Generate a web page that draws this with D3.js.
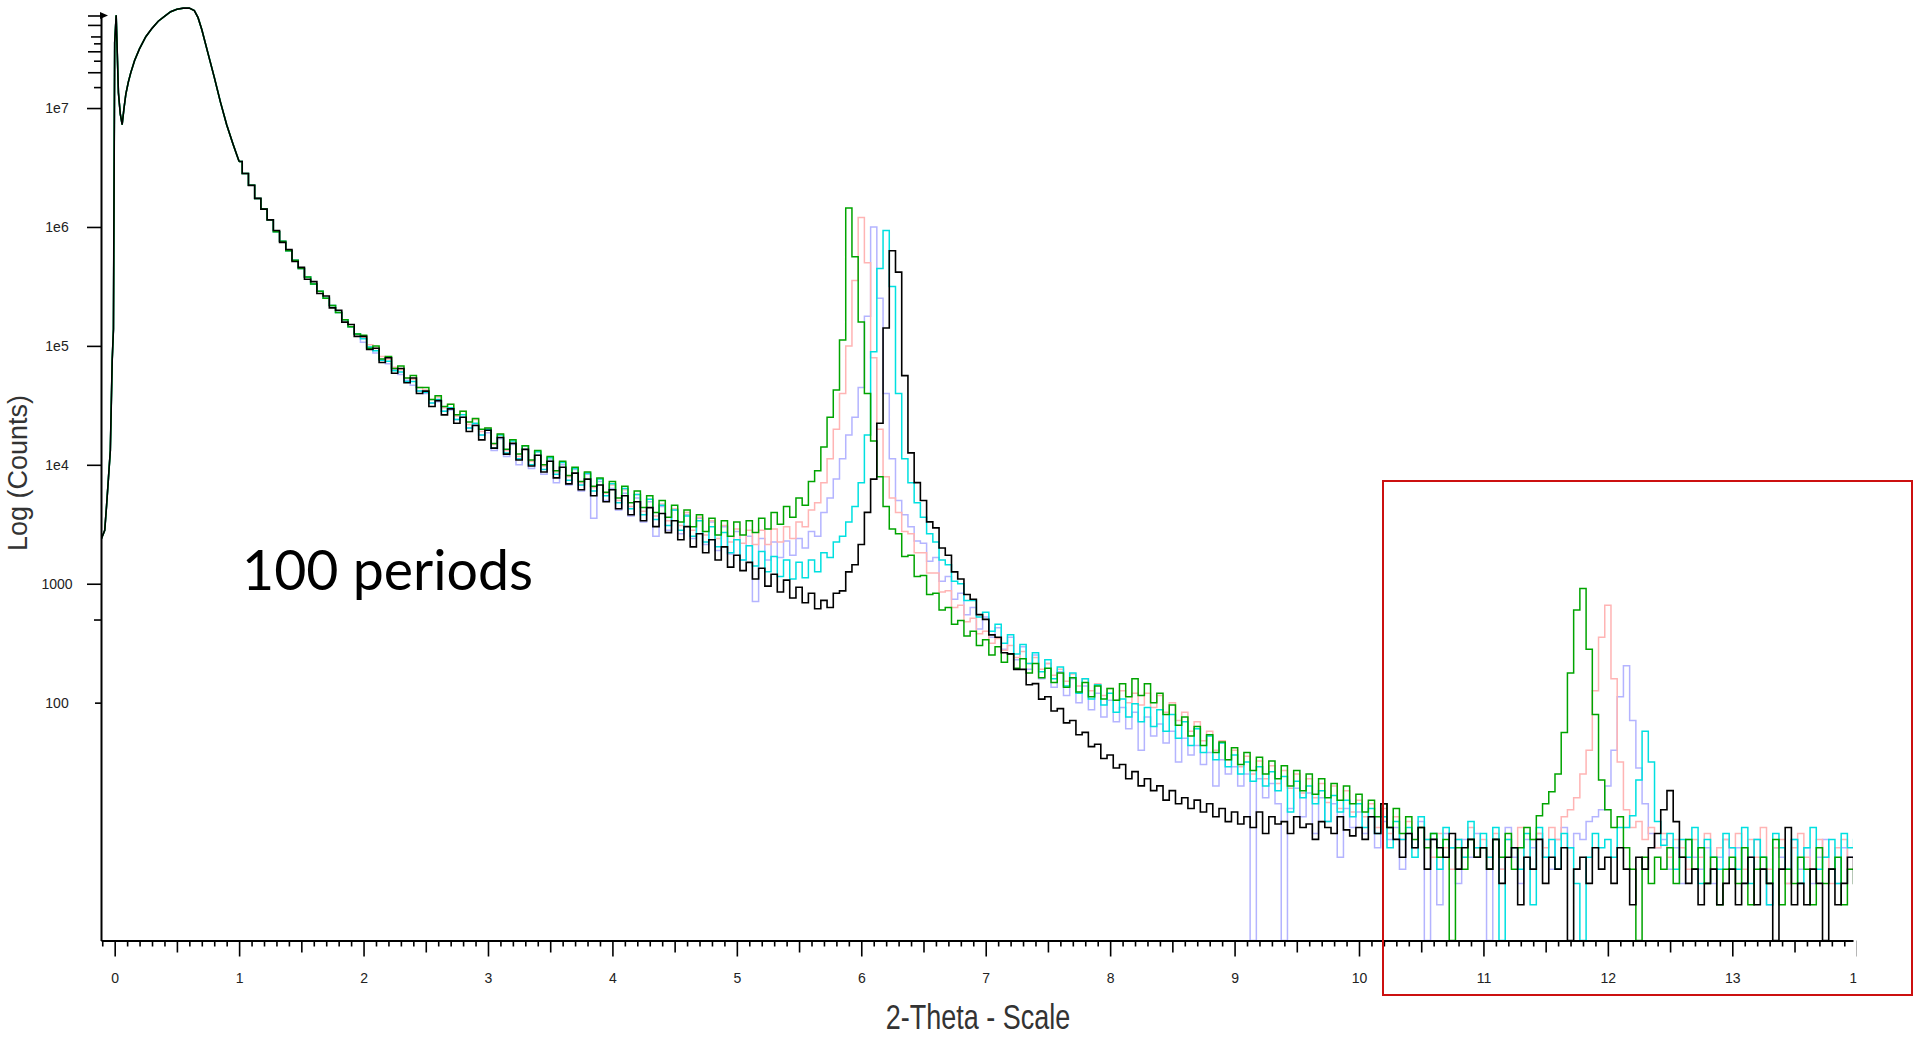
<!DOCTYPE html>
<html><head><meta charset="utf-8">
<script src="https://cdn.jsdelivr.net/npm/d3@7"></script>
<style>
html,body{margin:0;padding:0;background:#fff;overflow:hidden;}
svg{display:block;}
</style></head><body>
<svg id="chart" width="1914" height="1037"></svg>
<script>
// ---- data (log10 of counts) ----
// shared start of all five scans (curves coincide here)
const headTheta = [-0.11,-0.08,-0.065,-0.05,-0.035,-0.02,-0.01,0.0,0.012,0.03,0.045,0.06,0.075,0.09,0.11,0.13,0.16,0.20,0.25,0.30,0.35,0.40,0.45,0.50,0.55,0.60,0.64,0.67,0.70,0.75,0.80,0.85,0.90,0.95];
const headLogCounts = [3.37,3.45,3.66,3.89,4.12,4.88,5.14,7.55,7.78,7.13,6.95,6.86,7.00,7.12,7.22,7.30,7.40,7.50,7.60,7.67,7.73,7.77,7.81,7.83,7.84,7.84,7.82,7.76,7.66,7.46,7.26,7.05,6.86,6.70];
// from 2-theta = 1.00 onward, one value every 0.05 degree
const bodyStartTheta = 1.00;
const bodyStepTheta = 0.05;

const logBlack = [
6.55,6.45,6.35,6.24,6.15,6.06,5.97,5.87,5.81,5.71,5.66,5.56,5.54,5.44,5.42,5.32,5.30,5.20,5.18,5.08,
5.08,4.97,4.98,4.86,4.90,4.77,4.81,4.69,4.73,4.60,4.62,4.49,4.54,4.42,4.47,4.35,4.40,4.28,4.33,4.21,
4.29,4.14,4.23,4.09,4.18,4.04,4.13,3.99,4.08,3.94,4.03,3.89,3.98,3.84,3.93,3.79,3.88,3.74,3.83,3.69,
3.79,3.63,3.74,3.58,3.69,3.53,3.64,3.48,3.59,3.43,3.53,3.37,3.48,3.31,3.42,3.26,3.37,3.20,3.31,3.14,
3.24,3.11,3.18,3.04,3.13,2.98,3.08,2.93,3.03,2.88,2.97,2.84,2.92,2.79,2.86,2.80,2.92,2.94,3.10,3.16,
3.33,3.60,3.88,4.35,5.15,5.80,5.62,4.75,4.10,3.85,3.70,3.52,3.47,3.30,3.24,3.10,3.04,2.91,2.87,2.74,
2.70,2.57,2.55,2.42,2.41,2.28,2.28,2.15,2.16,2.03,2.05,1.93,1.95,1.83,1.85,1.73,1.75,1.63,1.65,1.53,
1.56,1.45,1.48,1.36,1.42,1.30,1.36,1.26,1.30,1.18,1.26,1.15,1.20,1.11,1.18,1.08,1.15,1.04,1.11,1.00,
1.08,0.98,1.04,0.95,1.08,0.90,1.04,0.98,1.00,0.90,1.04,0.95,0.98,0.85,1.00,0.95,0.90,1.04,0.93,0.88,
0.95,0.85,1.04,0.90,1.15,0.95,0.85,0.70,0.90,0.78,0.95,0.60,0.85,0.78,0.70,0.90,0.60,0.78,0.85,0.70,
0.78,0.60,0.85,0.48,0.70,0.78,0.30,0.70,0.60,0.85,0.48,0.70,0.60,0.78,0,0.60,0.70,0.48,0.78,0.60,
0.70,0.48,0.78,0.60,0.30,0.70,0.60,0.78,0.90,1.10,1.26,1.00,0.70,0.48,0.60,0.30,0.48,0.60,0.30,0.48,
0.60,0.30,0.48,0.70,0.30,0.60,0.48,0,0.60,0.95,0.30,0.48,0.30,0.60,0.48,0,0.60,0.30,0.48,0.70,
0.48];

const logGreen = [
6.55,6.45,6.35,6.24,6.15,6.06,5.96,5.88,5.80,5.72,5.65,5.58,5.52,5.46,5.40,5.34,5.28,5.22,5.16,5.10,
5.09,4.98,5.00,4.89,4.91,4.81,4.83,4.73,4.75,4.65,4.65,4.55,4.58,4.49,4.51,4.42,4.45,4.36,4.39,4.30,
4.31,4.18,4.26,4.13,4.21,4.09,4.16,4.04,4.12,4.00,4.07,3.95,4.03,3.91,3.98,3.86,3.94,3.82,3.89,3.77,
3.86,3.72,3.82,3.68,3.78,3.64,3.74,3.60,3.70,3.56,3.66,3.52,3.62,3.48,3.58,3.44,3.55,3.41,3.53,3.40,
3.52,3.41,3.53,3.43,3.55,3.46,3.60,3.50,3.65,3.56,3.72,3.66,3.86,3.95,4.15,4.40,4.63,5.05,6.16,5.75,
5.20,4.60,4.20,3.90,3.65,3.46,3.42,3.23,3.24,3.06,3.07,2.91,2.92,2.78,2.80,2.66,2.69,2.56,2.60,2.48,
2.53,2.40,2.47,2.34,2.41,2.29,2.37,2.25,2.33,2.21,2.29,2.17,2.25,2.13,2.21,2.09,2.17,2.05,2.14,2.03,
2.12,2.02,2.16,2.05,2.20,2.06,2.16,2.00,2.08,1.90,1.98,1.81,1.88,1.72,1.80,1.64,1.73,1.58,1.67,1.52,
1.62,1.48,1.58,1.43,1.54,1.40,1.51,1.36,1.47,1.30,1.43,1.26,1.40,1.23,1.36,1.20,1.32,1.18,1.30,1.15,
1.23,1.08,1.18,1.04,1.15,0.95,1.11,0.90,1.04,0.85,0.95,0.78,0.90,0.70,0.85,0,0.78,0.60,0.85,0.70,
0.78,0.60,0.85,0.70,0.90,0.60,0.78,0.95,0.85,1.05,1.15,1.25,1.40,1.75,2.25,2.78,2.96,2.45,1.90,1.35,
1.10,0.95,1.04,0.78,0.60,0,0.70,0.48,0.70,0.60,0.78,0.48,0.70,0.85,0.60,0.78,0.48,0.70,0.30,0.60,
0.70,0.48,0.78,0.30,0.60,0.70,0.48,0.85,0.30,0.60,0.48,0.70,0.60,0.30,0.78,0.48,0.60,0.70,0.30,0.60,
0.48];

const logPink = [
6.55,6.45,6.35,6.24,6.15,6.06,5.96,5.88,5.80,5.72,5.65,5.58,5.52,5.46,5.40,5.34,5.28,5.22,5.16,5.10,
5.07,5.01,4.98,4.91,4.89,4.82,4.80,4.73,4.72,4.65,4.63,4.55,4.57,4.48,4.51,4.41,4.45,4.34,4.38,4.28,
4.31,4.17,4.26,4.12,4.21,4.07,4.16,4.03,4.11,3.99,4.06,3.94,4.02,3.90,3.97,3.85,3.93,3.81,3.88,3.76,
3.83,3.70,3.79,3.65,3.75,3.61,3.71,3.57,3.67,3.53,3.63,3.49,3.60,3.45,3.56,3.41,3.53,3.38,3.49,3.35,
3.46,3.34,3.45,3.33,3.45,3.33,3.46,3.35,3.48,3.38,3.52,3.48,3.62,3.68,3.85,4.05,4.30,4.60,5.00,5.55,
6.08,5.70,4.90,4.30,3.90,3.72,3.60,3.44,3.42,3.26,3.26,3.09,3.09,2.93,2.94,2.80,2.82,2.68,2.71,2.58,
2.60,2.50,2.54,2.44,2.48,2.38,2.43,2.33,2.38,2.28,2.33,2.23,2.28,2.18,2.24,2.14,2.20,2.10,2.16,2.06,
2.12,2.02,2.10,2.00,2.08,1.98,2.08,1.96,2.06,1.92,2.00,1.85,1.92,1.76,1.84,1.68,1.76,1.60,1.68,1.52,
1.60,1.46,1.55,1.40,1.51,1.36,1.47,1.32,1.43,1.28,1.40,1.24,1.36,1.20,1.32,1.16,1.30,1.11,1.26,1.08,
1.18,1.04,1.15,0.95,1.11,0.90,1.04,0.85,1.00,0.78,0.95,0.85,0.70,0.90,0.78,0.60,0.85,0.70,0.95,0.78,
0.85,0.70,0.90,0.60,0.85,0.78,0.95,0.70,0.85,0.90,0.78,0.95,0.85,1.04,1.10,1.20,1.40,1.60,2.10,2.55,
2.82,2.20,1.50,1.10,0.95,1.00,0.85,0.95,0.78,0.90,0.70,0.85,0.78,0.60,0.85,0.70,0.90,0.60,0.78,0.85,
0.78,0.90,0.60,0.85,0.70,0.95,0.60,0.78,0.85,0.48,0.78,0.90,0.70,0.60,0.85,0.70,0.48,0.78,0.85,0.60,
0.70];

const logLavender = [
6.55,6.45,6.35,6.24,6.15,6.06,5.96,5.88,5.80,5.72,5.65,5.58,5.52,5.46,5.40,5.34,5.28,5.22,5.16,5.10,
5.03,4.99,4.94,4.89,4.85,4.80,4.76,4.71,4.67,4.62,4.60,4.52,4.53,4.45,4.46,4.38,4.40,4.31,4.34,4.25,
4.27,4.12,4.22,4.07,4.17,4.00,4.13,3.97,4.08,3.92,4.04,3.85,4.00,3.83,3.96,3.78,3.92,3.55,3.86,3.70,
3.80,3.62,3.76,3.57,3.72,3.52,3.69,3.40,3.65,3.45,3.62,3.42,3.58,3.38,3.55,3.33,3.52,3.28,3.48,3.25,
3.44,3.20,3.40,2.85,3.38,3.20,3.35,3.22,3.36,3.24,3.38,3.30,3.44,3.40,3.60,3.72,3.88,4.05,4.25,4.40,
4.65,5.25,6.00,5.40,4.60,4.05,3.70,3.58,3.48,3.36,3.34,3.19,3.22,3.02,3.06,2.87,2.92,2.74,2.80,2.62,
2.72,2.55,2.63,2.45,2.55,2.36,2.47,2.28,2.40,2.20,2.33,2.13,2.26,2.06,2.20,2.00,2.14,1.94,2.08,1.88,
2.02,1.84,1.96,1.78,1.92,1.60,1.88,1.72,1.82,1.66,1.76,1.50,1.70,1.56,1.64,1.48,1.58,1.30,1.52,1.40,
1.46,1.30,1.40,0,1.36,1.20,1.32,1.15,0,1.11,1.28,1.04,1.24,0.90,1.20,1.00,1.15,0.70,1.11,0.95,
1.08,0.90,1.04,0.78,1.00,0.85,0.95,0.60,0.90,0.78,1.00,0,0.85,0.30,0.90,0.78,0.48,0.85,0.70,0.90,
0.78,0,0.85,0.60,0.95,0.70,0.48,0.85,0.78,0.90,0.70,0.60,0.85,0.95,0.78,0.90,0.85,1.00,1.04,1.10,
1.30,1.60,2.05,2.31,1.85,1.45,1.15,0.90,0.78,0.85,0.60,0.78,0.48,0.85,0.70,0.60,0.78,0.48,0.70,0.85,
0.60,0.78,0.48,0.70,0.85,0.60,0.30,0.78,0.70,0.48,0.85,0.60,0.78,0.48,0.70,0.85,0.60,0.48,0.78,0.70,
0.60];

const logCyan = [
6.55,6.45,6.35,6.24,6.15,6.06,5.96,5.88,5.80,5.72,5.65,5.58,5.52,5.46,5.40,5.34,5.28,5.22,5.16,5.10,
5.06,4.99,4.96,4.88,4.87,4.79,4.78,4.70,4.70,4.62,4.61,4.52,4.55,4.45,4.48,4.38,4.42,4.31,4.35,4.25,
4.30,4.14,4.25,4.10,4.20,4.05,4.16,4.00,4.11,3.96,4.06,3.92,4.02,3.87,3.97,3.83,3.93,3.78,3.88,3.74,
3.84,3.68,3.80,3.63,3.75,3.58,3.71,3.54,3.66,3.49,3.62,3.45,3.57,3.40,3.53,3.35,3.48,3.31,3.43,3.26,
3.37,3.20,3.32,3.15,3.27,3.10,3.23,3.06,3.20,3.04,3.18,3.05,3.20,3.10,3.26,3.22,3.35,3.40,3.52,3.65,
3.85,4.25,4.95,5.65,5.97,5.50,4.60,4.05,3.85,3.68,3.56,3.42,3.35,3.20,3.16,3.02,3.00,2.86,2.86,2.72,
2.76,2.60,2.66,2.50,2.57,2.41,2.49,2.33,2.42,2.26,2.36,2.20,2.30,2.14,2.25,2.08,2.20,2.03,2.15,1.98,
2.08,1.92,2.03,1.88,1.99,1.84,1.96,1.80,1.94,1.76,1.90,1.70,1.84,1.64,1.78,1.58,1.72,1.52,1.66,1.46,
1.56,1.40,1.50,1.34,1.46,1.30,1.42,1.26,1.38,1.08,1.34,1.20,1.30,1.15,1.26,1.00,1.22,1.08,1.18,1.04,
1.15,0.95,1.11,0.90,1.04,0.78,1.00,0.85,0.95,0.70,1.04,0.85,0.90,0.60,0.95,0.78,0.85,0.70,1.00,0.78,
0.90,0.70,0.95,0,0.85,0.78,0.60,0.90,0.30,0.95,0.70,0.85,0.60,0.90,0.78,0.48,0,0.70,0.90,0.78,
0.85,0.70,0.95,0.95,1.05,1.35,1.76,1.50,1.00,0.80,0.90,0.60,0.85,0.70,0.95,0.48,0.85,0.70,0.60,0.90,
0.78,0.60,0.95,0.48,0.85,0.70,0.30,0.90,0.78,0.60,0.85,0.48,0.78,0.95,0.60,0.70,0.85,0.48,0.90,0.78,
0.85];

// drawing order (back to front) and colours
const seriesNames = ["lavender","pink","cyan","green","black"];
const seriesColors = ["#b4b4ff","#ffb4b4","#00e0e0","#00a400","#000000"];
const seriesData = [logLavender, logPink, logCyan, logGreen, logBlack];

const xTickValues = [0,1,2,3,4,5,6,7,8,9,10,11,12,13,14];
const xTickLabels = ["0","1","2","3","4","5","6","7","8","9","10","11","12","13","14"];
const yTickValues = [1e7,1e6,1e5,1e4,1000,100];
const yTickLabels = ["1e7","1e6","1e5","1e4","1000","100"];
const yMinorLong = [6e7,5e7,3e7,2e7];
const yMinorMid = [4e7];
const yMinorShort = [3.5e7,2.5e7,1.5e7,500];

const xTitle = "2-Theta - Scale";
const yTitle = "Log (Counts)";
const annotation = "100 periods";

// ---- drawing ----
const svg = d3.select("#chart");
const x = d3.scaleLinear().domain([-0.11, 13.97]).range([101, 1853]);
const y = d3.scaleLog().domain([1, 6e7]).range([940.5, 15.5]);

const defs = svg.append("defs");
defs.append("clipPath").attr("id","plotClip").append("rect")
  .attr("x",101).attr("y",0).attr("width",1853-101).attr("height",941);
defs.append("clipPath").attr("id","axisClip").append("rect")
  .attr("x",0).attr("y",900).attr("width",1856.5).attr("height",137);

const stepLine = d3.line().x(d=>x(d[0])).y(d=>y(d[1])).curve(d3.curveStep);
const linLine = d3.line().x(d=>x(d[0])).y(d=>y(d[1])).curve(d3.curveLinear);

const plot = svg.append("g").attr("clip-path","url(#plotClip)");
seriesData.forEach((vals, si) => {
  const body = vals.map((L,i)=>[bodyStartTheta + i*bodyStepTheta, Math.pow(10, L)]);
  const head = headTheta.map((t,i)=>[t, Math.pow(10, headLogCounts[i])]).concat([body[0]]);
  const g = plot.append("g").attr("class","series-"+seriesNames[si]);
  const sw = seriesNames[si]==="black" ? 1.6 : 1.5;
  g.append("path").attr("d", linLine(head)).attr("fill","none")
    .attr("stroke", seriesColors[si]).attr("stroke-width", sw).attr("stroke-linejoin","miter");
  g.append("path").attr("d", stepLine(body)).attr("fill","none")
    .attr("stroke", seriesColors[si]).attr("stroke-width", sw);
});

const tickFont = "14px 'Liberation Sans', Arial, sans-serif";

// x axis
const gxWrap = svg.append("g").attr("clip-path","url(#axisClip)");
const gx = gxWrap.append("g").attr("transform","translate(0,940.5)");
gx.call(d3.axisBottom(x).tickValues(xTickValues).tickFormat((d,i)=>xTickLabels[i]).tickSize(16).tickSizeOuter(0));
gx.select(".domain").attr("stroke","#000").attr("stroke-width",2);
gx.selectAll(".tick line").attr("stroke","#000").attr("stroke-width",1.6);
gx.selectAll(".tick text").attr("y",42.5).attr("dy",0).style("font",tickFont).attr("fill","#222");

const halfTicks = d3.range(0,14).map(i=>i+0.5);
const tenthTicks = d3.range(-1,140).filter(i=>i%5!==0).map(i=>i/10);
const gxHalf = gxWrap.append("g").attr("transform","translate(0,940.5)");
gxHalf.call(d3.axisBottom(x).tickValues(halfTicks).tickFormat("").tickSize(12).tickSizeOuter(0));
gxHalf.select(".domain").remove();
gxHalf.selectAll(".tick line").attr("stroke","#000").attr("stroke-width",1.6);
const gxMinor = gxWrap.append("g").attr("transform","translate(0,940.5)");
gxMinor.call(d3.axisBottom(x).tickValues(tenthTicks).tickFormat("").tickSize(6).tickSizeOuter(0));
gxMinor.select(".domain").remove();
gxMinor.selectAll(".tick line").attr("stroke","#000").attr("stroke-width",1.6);

// y axis
const gy = svg.append("g").attr("transform","translate(101,0)");
gy.call(d3.axisLeft(y).tickValues(yTickValues).tickFormat((d,i)=>yTickLabels[i]).tickSize(14).tickSizeOuter(0));
gy.select(".domain").attr("stroke","#000").attr("stroke-width",2);
gy.selectAll(".tick line").attr("stroke","#000").attr("stroke-width",1.6)
  .attr("x2", d => d===100 ? -6 : -14);
gy.selectAll(".tick text").attr("x",-44).attr("dy","0.34em").attr("text-anchor","middle")
  .style("font",tickFont).attr("fill","#222");

[[yMinorLong,13],[yMinorMid,10],[yMinorShort,7]].forEach(([vals,len])=>{
  const gm = svg.append("g").attr("transform","translate(101,0)");
  gm.call(d3.axisLeft(y).tickValues(vals).tickFormat("").tickSize(len).tickSizeOuter(0));
  gm.select(".domain").remove();
  gm.selectAll(".tick line").attr("stroke","#000").attr("stroke-width",1.6);
});

// small arrow mark at top of y axis
svg.append("path").attr("d","M100,12 L108,15.5 L100,19 Z").attr("fill","#000");

// axis titles
svg.append("text").attr("transform","translate(978,1029) scale(1,1.32)")
  .attr("text-anchor","middle").style("font","27px 'Liberation Sans', Arial, sans-serif")
  .attr("fill","#333").text(xTitle);
svg.append("text").attr("transform","translate(27,473) rotate(-90)")
  .attr("text-anchor","middle").style("font","27px 'Liberation Sans', Arial, sans-serif")
  .attr("fill","#333").text(yTitle);

// annotation
svg.append("text").attr("x",242).attr("y",589.5)
  .attr("textLength",291).attr("lengthAdjust","spacingAndGlyphs")
  .style("font","56px Lato, 'Open Sans', sans-serif").attr("fill","#000").text(annotation);

// highlight box
svg.append("rect").attr("x",1383).attr("y",481).attr("width",529).attr("height",514)
  .attr("fill","none").attr("stroke","#cc1010").attr("stroke-width",2);
</script>
</body></html>
